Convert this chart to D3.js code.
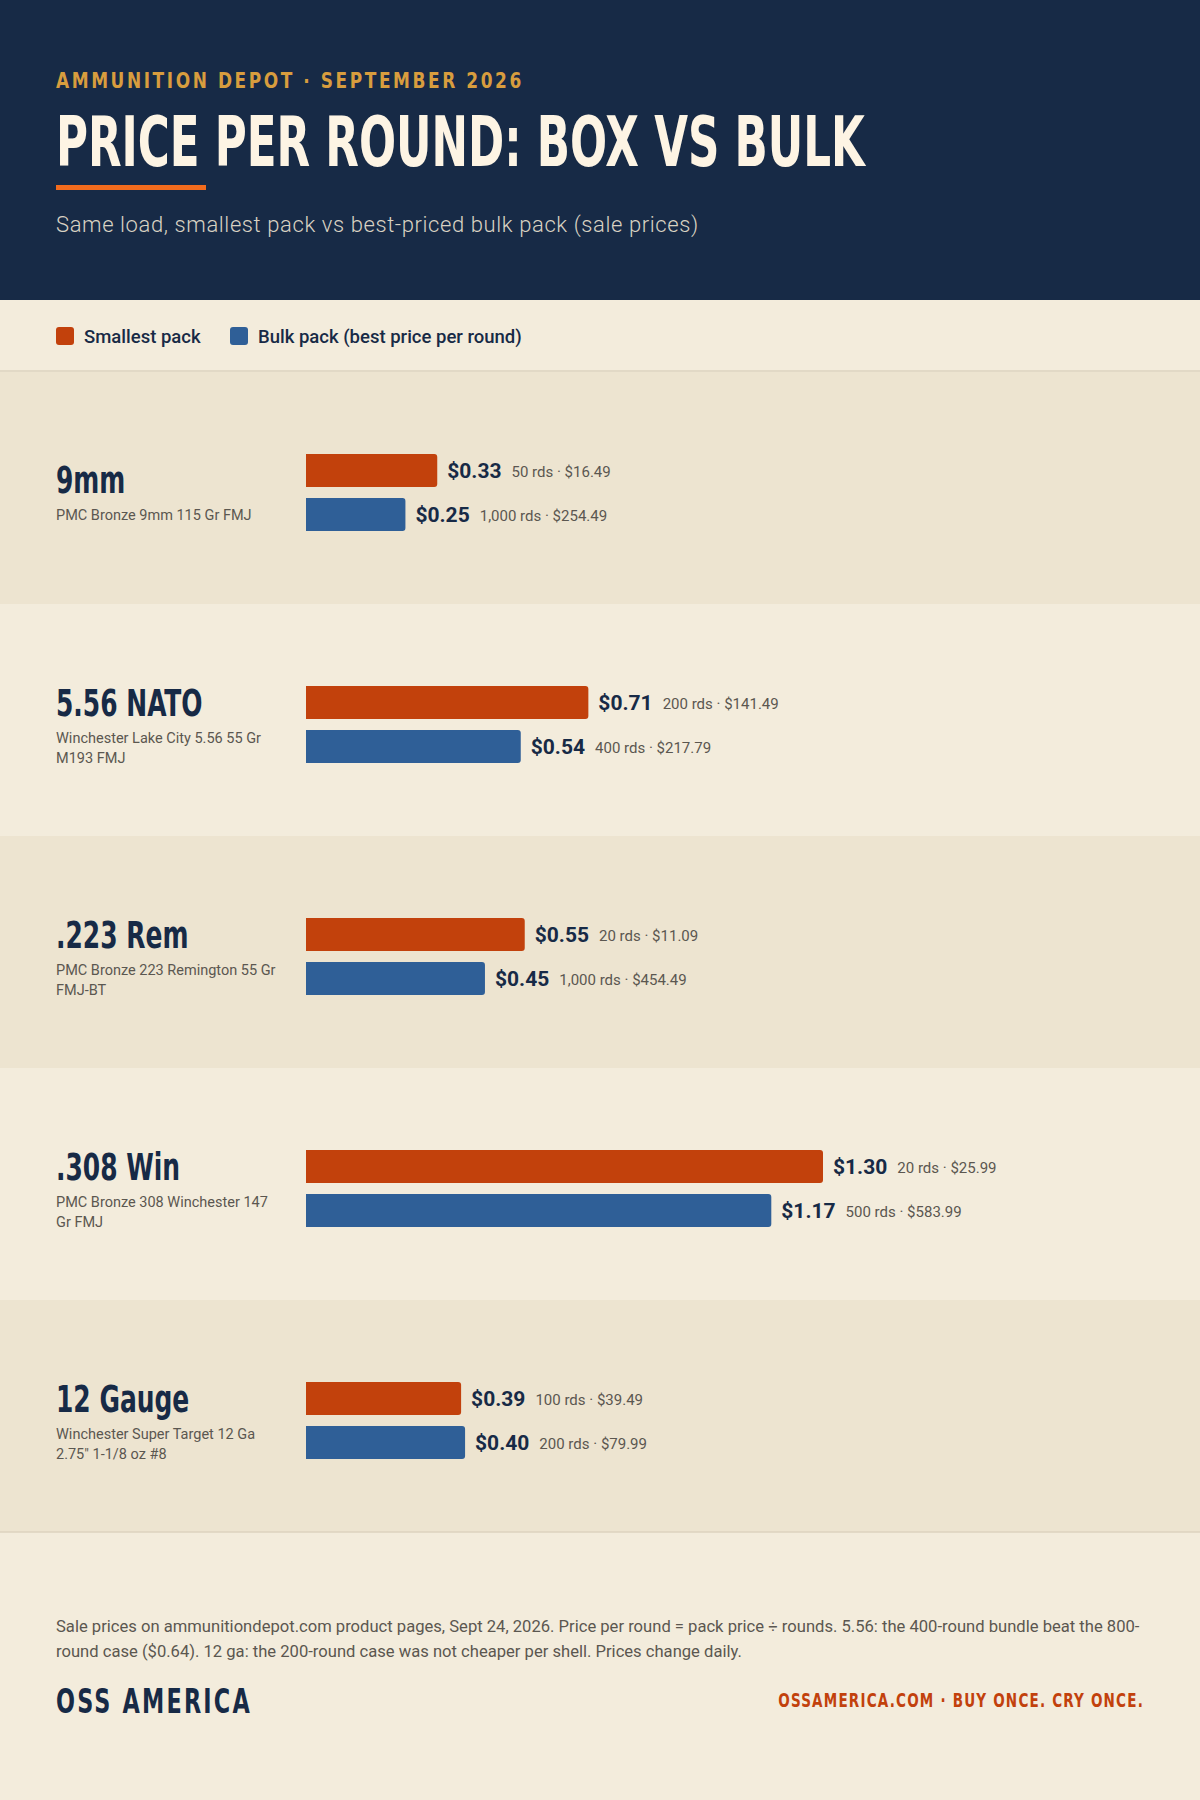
<!DOCTYPE html>
<html><head><meta charset="utf-8">
<script src="https://cdn.jsdelivr.net/npm/d3@7"></script>
<style>
html,body{margin:0;padding:0;background:#f3ecdc;}
svg{display:block;}
</style></head>
<body>
<svg id="chart" width="1200" height="1800"></svg>
<script>
// ---- data ----
const calibers = ["9mm", "5.56 NATO", ".223 Rem", ".308 Win", "12 Gauge"];
const products = [
  "PMC Bronze 9mm 115 Gr FMJ",
  "Winchester Lake City 5.56 55 Gr M193 FMJ",
  "PMC Bronze 223 Remington 55 Gr FMJ-BT",
  "PMC Bronze 308 Winchester 147 Gr FMJ",
  "Winchester Super Target 12 Ga 2.75\" 1-1/8 oz #8"
];
const smallestPrice = [0.33, 0.71, 0.55, 1.30, 0.39];
const bulkPrice = [0.25, 0.54, 0.45, 1.17, 0.40];
const smallestDetail = ["50 rds · $16.49", "200 rds · $141.49", "20 rds · $11.09", "20 rds · $25.99", "100 rds · $39.49"];
const bulkDetail = ["1,000 rds · $254.49", "400 rds · $217.79", "1,000 rds · $454.49", "500 rds · $583.99", "200 rds · $79.99"];
const seriesNames = ["Smallest pack", "Bulk pack (best price per round)"];
const eyebrow = "AMMUNITION DEPOT · SEPTEMBER 2026";
const title = "PRICE PER ROUND: BOX VS BULK";
const subtitle = "Same load, smallest pack vs best-priced bulk pack (sale prices)";
const noteLines = [
  "Sale prices on ammunitiondepot.com product pages, Sept 24, 2026. Price per round = pack price ÷ rounds. 5.56: the 400-round bundle beat the 800-",
  "round case ($0.64). 12 ga: the 200-round case was not cheaper per shell. Prices change daily."
];
const brand = "OSS AMERICA";
const tagline = "OSSAMERICA.COM · BUY ONCE. CRY ONCE.";

// ---- styles ----
const NAVY = "#172a46", ORANGE = "#c2410c", BLUE = "#2f5f97", GOLD = "#d89d3e", CREAM = "#fdf4e4";
const BG = "#f3ecdc", BG2 = "#ede4d0", RULE = "#ddd3bf", GREY = "#5b5750";
const COND = "'Liberation Sans Narrow','DejaVu Sans Condensed','DejaVu Sans',sans-serif";
const SANS = "Roboto,'Open Sans',sans-serif";

const W = 1200, H = 1800, L = 56;
const svg = d3.select("#chart");

// condensed text: natural glyphs squeezed horizontally by a transform
function condText(parent, x, y, txt, opts) {
  const g = parent.append("g");
  const t = g.append("text").text(txt)
    .attr("font-family", COND).attr("font-weight", 700)
    .attr("font-size", opts.size).attr("fill", opts.fill)
    .attr("letter-spacing", opts.ls || 0)
    .attr("text-anchor", opts.anchor || "start");
  let s = opts.scale || 1;
  if (opts.width) { const w = t.node().getComputedTextLength(); if (w > 0) s = opts.width / w; }
  g.attr("transform", `translate(${x},${y}) scale(${s},1)`);
  return g;
}

// backgrounds
svg.append("rect").attr("width", W).attr("height", H).attr("fill", BG);
svg.append("rect").attr("width", W).attr("height", 300).attr("fill", NAVY);

// header
condText(svg, L, 88, eyebrow, {size: 22, fill: GOLD, ls: 3, width: 468});
condText(svg, L, 166, title, {size: 70, fill: CREAM, width: 809});
svg.append("rect").attr("x", L).attr("y", 185).attr("width", 150).attr("height", 5).attr("fill", "#f26b1d");
svg.append("text").attr("x", L).attr("y", 232).text(subtitle)
  .attr("font-family", SANS).attr("font-weight", 300).attr("font-size", 22)
  .attr("letter-spacing", 0.6).attr("fill", "#d9d2c3");

// legend
const legendColors = [ORANGE, BLUE];
const legendX = [L, 230];
seriesNames.forEach((s, i) => {
  svg.append("rect").attr("x", legendX[i]).attr("y", 327).attr("width", 18).attr("height", 18)
    .attr("rx", 3).attr("fill", legendColors[i]);
  svg.append("text").attr("x", legendX[i] + 28).attr("y", 343).text(s)
    .attr("font-family", SANS).attr("font-weight", 500).attr("font-size", 18.5).attr("fill", NAVY);
});
svg.append("line").attr("x1", 0).attr("x2", W).attr("y1", 371).attr("y2", 371).attr("stroke", RULE).attr("stroke-width", 1.5);

// rows
const ROW_TOP = 372, ROW_H = 232;
const y = d3.scaleBand().domain(calibers).range([ROW_TOP, ROW_TOP + ROW_H * calibers.length]);
const x = d3.scaleLinear().domain([0, d3.max(smallestPrice.concat(bulkPrice))]).range([0, 517]);
const BAR_X = 306, BAR_H = 33, BAR_GAP = 11, BAR_OFF = 82, R = 3;

function barPath(x0, y0, w, h, r) {
  return `M${x0},${y0}H${x0 + w - r}Q${x0 + w},${y0} ${x0 + w},${y0 + r}V${y0 + h - r}Q${x0 + w},${y0 + h} ${x0 + w - r},${y0 + h}H${x0}Z`;
}

svg.append("g").selectAll("rect").data(calibers).join("rect")
  .attr("x", 0).attr("width", W)
  .attr("y", d => y(d)).attr("height", y.bandwidth())
  .attr("fill", (d, i) => i % 2 === 0 ? BG2 : BG);

function wrapWords(text, maxW, font) {
  const tmp = svg.append("text").attr("font-family", SANS).attr("font-size", font).attr("visibility", "hidden");
  const words = text.split(" "); const lines = []; let cur = "";
  words.forEach(w => {
    const t = cur ? cur + " " + w : w;
    tmp.text(t);
    if (tmp.node().getComputedTextLength() > maxW && cur) { lines.push(cur); cur = w; } else cur = t;
  });
  if (cur) lines.push(cur);
  tmp.remove();
  return lines;
}

calibers.forEach((c, i) => {
  const top = y(c);
  const g = svg.append("g");
  const lines = wrapWords(products[i], 225, 14.5);
  const tb = top + 121 - (lines.length - 1) * 9;
  condText(g, L, tb, c, {size: 37, fill: NAVY, scale: 0.75});
  lines.forEach((ln, k) => {
    g.append("text").attr("x", L).attr("y", tb + 27 + k * 20).text(ln)
      .attr("font-family", SANS).attr("font-size", 14.5).attr("fill", GREY);
  });
  const series = [
    {v: smallestPrice[i], d: smallestDetail[i], c: ORANGE},
    {v: bulkPrice[i], d: bulkDetail[i], c: BLUE}
  ];
  series.forEach((s, k) => {
    const by = top + BAR_OFF + k * (BAR_H + BAR_GAP);
    const w = x(s.v);
    g.append("path").attr("d", barPath(BAR_X, by, w, BAR_H, R)).attr("fill", s.c);
    const vt = g.append("text").attr("x", BAR_X + w + 10).attr("y", by + BAR_H / 2 + 7.5)
      .text("$" + s.v.toFixed(2))
      .attr("font-family", SANS).attr("font-weight", 700).attr("font-size", 21).attr("fill", NAVY);
    const vw = vt.node().getComputedTextLength();
    g.append("text").attr("x", BAR_X + w + 10 + vw + 10).attr("y", by + BAR_H / 2 + 6.5)
      .text(s.d).attr("font-family", SANS).attr("font-size", 15).attr("fill", GREY);
  });
});

const bottom = ROW_TOP + ROW_H * calibers.length;
svg.append("line").attr("x1", 0).attr("x2", W).attr("y1", bottom).attr("y2", bottom).attr("stroke", RULE).attr("stroke-width", 1.5);

// footer
noteLines.forEach((ln, k) => {
  const t = svg.append("text").attr("x", L).attr("y", 1632 + k * 25).text(ln)
    .attr("font-family", SANS).attr("font-size", 16.6).attr("fill", GREY);
  if (k === 0) {
    const w = t.node().getComputedTextLength();
    if (w > 1084) t.attr("transform", `translate(${L},0) scale(${1084 / w},1) translate(${-L},0)`);
  }
});
condText(svg, L, 1713, brand, {size: 34, fill: NAVY, ls: 3, width: 196});
condText(svg, 1144, 1707, tagline, {size: 19, fill: ORANGE, ls: 1.5, width: 366, anchor: "end"});
</script>
</body></html>
